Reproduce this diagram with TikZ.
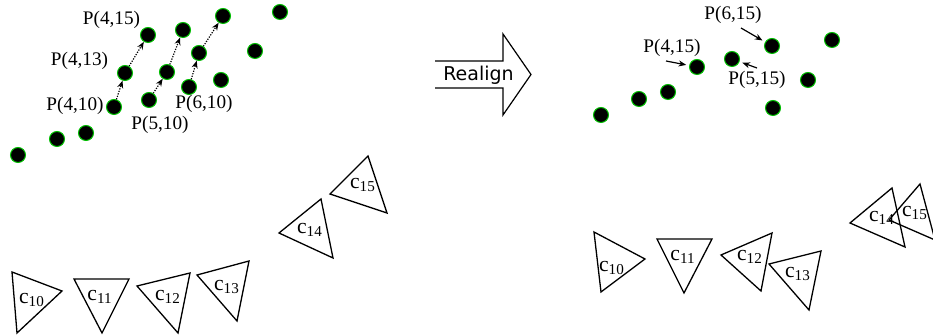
\documentclass[tikz,border=0pt]{standalone}
\usepackage{fontspec}
\setmainfont{Liberation Serif}
\newfontfamily\arrowfont{DejaVu Sans}
\usetikzlibrary{arrows.meta}
\begin{document}
\begin{tikzpicture}[
    x=0.5pt, y=-0.5pt,
    dot/.style={circle, fill=black, draw=green!75!black, line width=0.5pt, inner sep=0pt, minimum size=7.5pt},
    lbl/.style={font=\fontsize{9.6}{11}\selectfont, inner sep=0pt},
    cid/.style={font=\fontsize{10.8}{12}\selectfont, inner sep=0pt},
    tri/.style={draw, line width=0.65pt, line join=miter},
    move/.style={-{Stealth[length=3.8pt, width=3pt]}, line width=0.6pt, dash pattern=on 0.6pt off 0.7pt},
    ptr/.style={-{Stealth[length=3.8pt, width=3pt]}, line width=0.6pt, shorten >=1.5pt},
]
\useasboundingbox (0,0) rectangle (933,335);
\clip (0,0) rectangle (933,335);

% before: points of the three rows
\node[dot] (o1) at (18,155) {};
\node[dot] (o2) at (57,139) {};
\node[dot] (o3) at (86,133) {};
\node[dot] (p410) at (114,107) {};
\node[dot] (p413) at (125,73) {};
\node[dot] (p415) at (148,35) {};
\node[dot] (p510) at (149,100) {};
\node[dot] (p513) at (167,72) {};
\node[dot] (p515) at (183,30) {};
\node[dot] (p610) at (189,87) {};
\node[dot] (p613) at (199,53) {};
\node[dot] (p615) at (223,16) {};
\node[dot] (o4) at (221,80) {};
\node[dot] (o5) at (255,51) {};
\node[dot] (o6) at (280,12) {};

\node[lbl] (l415) at (111.5,20) {P(4,15)};
\node[lbl] (l413) at (79.5,61) {P(4,13)};
\node[lbl] (l410) at (75,106) {P(4,10)};
\node[lbl] (l510) at (160,125) {P(5,10)};
\node[lbl] (l610) at (204,104) {P(6,10)};

\draw[move] (p410) -- (p413);
\draw[move] (p413) -- (p415);
\draw[move] (p510) -- (p513);
\draw[move] (p513) -- (p515);
\draw[move] (p610) -- (p613);
\draw[move] (p613) -- (p615);

% before: cells
\draw[tri] (12,272) -- (62,291) -- (17,333) -- cycle;
\draw[tri] (74,279) -- (129,279) -- (102,333) -- cycle;
\draw[tri] (137,286) -- (190,273) -- (178,333) -- cycle;
\draw[tri] (197,275) -- (249,261) -- (237,321) -- cycle;
\draw[tri] (279,233) -- (321,199) -- (333,258) -- cycle;
\draw[tri] (330,194) -- (368,156) -- (387,213) -- cycle;
\node[cid] (c10) at (32,300) {c\textsubscript{10}};
\node[cid] (c11) at (100,297) {c\textsubscript{11}};
\node[cid] (c12) at (168,297) {c\textsubscript{12}};
\node[cid] (c13) at (227,287) {c\textsubscript{13}};
\node[cid] (c14) at (310,230) {c\textsubscript{14}};
\node[cid] (c15) at (363,185) {c\textsubscript{15}};

% the block arrow
\draw[line width=0.6pt] (435,61) -- (503,61) -- (503,34) -- (531,74.5) -- (503,115) -- (503,88) -- (435,88);
\node[font=\arrowfont\fontsize{9.5}{11}\selectfont, inner sep=0pt] (realign) at (478.5,75) {Realign};

% after: realigned points
\node[dot] (r1) at (601,115) {};
\node[dot] (r2) at (639,99) {};
\node[dot] (r3) at (668,92) {};
\node[dot] (q415) at (697,67) {};
\node[dot] (q515) at (732,59) {};
\node[dot] (q615) at (772,46) {};
\node[dot] (r4) at (808,80) {};
\node[dot] (r5) at (773,108) {};
\node[dot] (r6) at (832,40) {};

\node[lbl] (m615) at (733,14.5) {P(6,15)};
\node[lbl] (m415) at (672,47.5) {P(4,15)};
\node[lbl] (m515) at (757,79.5) {P(5,15)};

\coordinate (t615) at (741,28);
\coordinate (t415) at (666,61);
\coordinate (t515) at (757,68);
\draw[ptr] (t615) -- (q615);
\draw[ptr] (t415) -- (q415);
\draw[ptr] (t515) -- (q515);

% after: cells
\draw[tri] (594,232) -- (645,259) -- (601,292) -- cycle;
\draw[tri] (657,239) -- (712,239) -- (684,293) -- cycle;
\draw[tri] (721,255) -- (772,233) -- (761,291) -- cycle;
\draw[tri] (769,264) -- (821,251) -- (809,310) -- cycle;
\draw[tri] (850,223) -- (892,188) -- (905,247) -- cycle;
\draw[tri] (889,220) -- (920,184) -- (935,240) -- cycle;
\node[cid] (d10) at (612,268) {c\textsubscript{10}};
\node[cid] (d11) at (683,257) {c\textsubscript{11}};
\node[cid] (d12) at (750,257) {c\textsubscript{12}};
\node[cid] (d13) at (798,274) {c\textsubscript{13}};
\node[cid] (d14) at (882,218) {c\textsubscript{14}};
\node[cid] (d15) at (915,213) {c\textsubscript{15}};
\end{tikzpicture}
\end{document}
